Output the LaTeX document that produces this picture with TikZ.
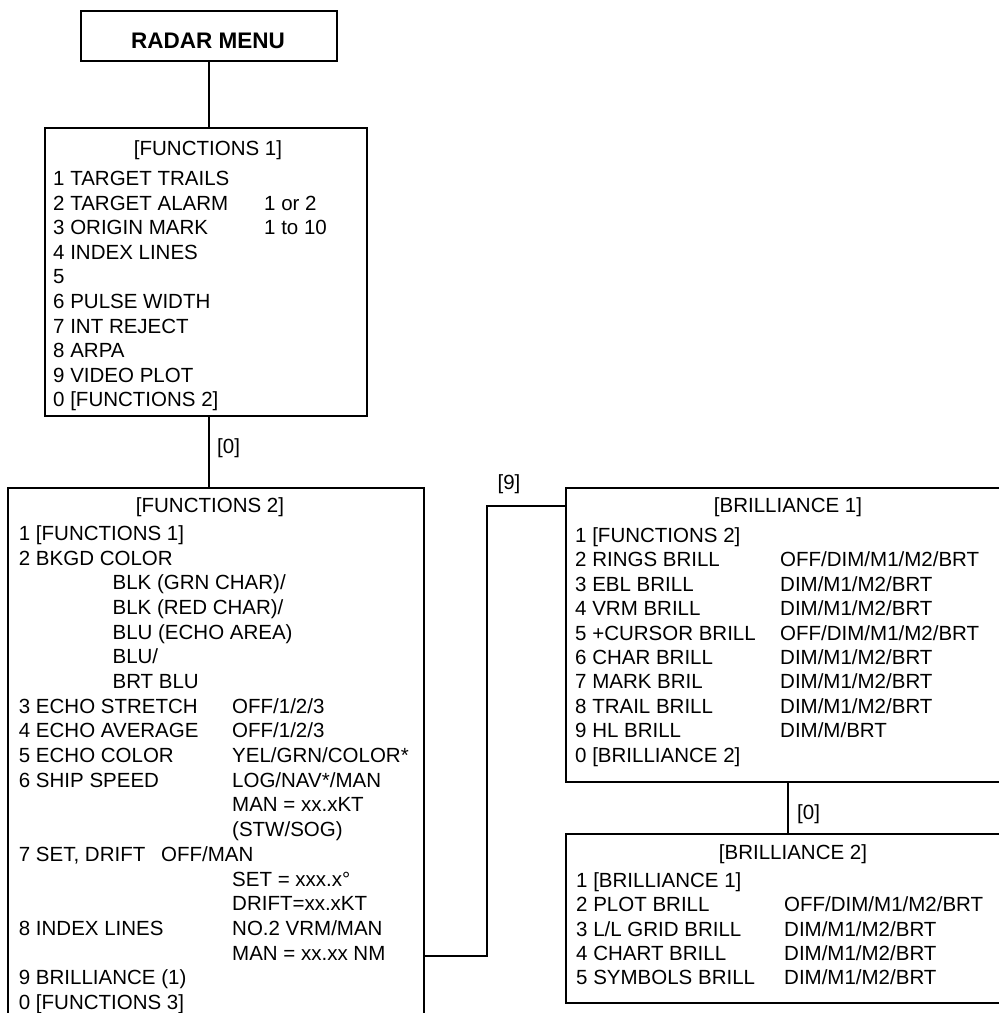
\documentclass[tikz,border=0pt]{standalone}
\usepackage{fontspec}
\setmainfont{Liberation Sans}
\usetikzlibrary{positioning}
\newcommand{\optline}[1]{\hspace*{93.7pt}#1}
\tikzset{
  menubox/.style={rectangle,draw=black,line width=1.2pt,inner sep=0pt},
  menutitle/.style={anchor=base,inner sep=0pt,font=\fontsize{20.5pt}{24.6pt}\selectfont},
  menutext/.style={anchor=base west,inner sep=0pt,font=\fontsize{20.5pt}{#1}\selectfont},
  menutext/.default=24.6pt,
  rootlabel/.style={inner sep=0pt,font=\fontsize{22.5pt}{26pt}\selectfont\bfseries},
  keylabel/.style={inner sep=0pt,font=\fontsize{20.5pt}{24pt}\selectfont},
  link/.style={line width=1.2pt}
}
\begin{document}
\begin{tikzpicture}[x=1pt,y=-1pt]
  \useasboundingbox (0,0) rectangle (999,1013);
  \node[menubox,minimum width=256pt,minimum height=50pt] (radar) at (209,36) {};
  \node[rootlabel] (radartext) at (208,41) {RADAR MENU};
  \node[menubox,minimum width=322pt,minimum height=288pt] (f1) at (206,272) {};
  \node[menubox,minimum width=416pt,minimum height=540pt] (f2) at (216,758) {};
  \node[menubox,minimum width=444pt,minimum height=294pt] (br1) at (788,635) {};
  \node[menubox,minimum width=444pt,minimum height=169pt] (br2) at (788,918.5) {};

  \node[menutitle] (f1title) at (208,155.5) {[FUNCTIONS 1]};
  \node[menutext] (f1keys) at (53,185.5) {\begin{tabular}[t]{@{}l@{}}
    1 TARGET TRAILS\\2 TARGET ALARM\\3 ORIGIN MARK\\4 INDEX LINES\\5\\
    6 PULSE WIDTH\\7 INT REJECT\\8 ARPA\\9 VIDEO PLOT\\0 [FUNCTIONS 2]
  \end{tabular}};
  \node[menutext] (f1vals) at (264,210.1) {\begin{tabular}[t]{@{}l@{}}
    1 or 2\\1 to 10
  \end{tabular}};

  \node[menutitle] (f2title) at (210,512.5) {[FUNCTIONS 2]};
  \node[menutext=24.68pt] (f2keys) at (18.7,540.5) {\begin{tabular}[t]{@{}l@{}}
    1 [FUNCTIONS 1]\\2 BKGD COLOR\\
    \optline{BLK (GRN CHAR)/}\\\optline{BLK (RED CHAR)/}\\\optline{BLU (ECHO AREA)}\\
    \optline{BLU/}\\\optline{BRT BLU}\\
    3 ECHO STRETCH\\4 ECHO AVERAGE\\5 ECHO COLOR\\6 SHIP SPEED\\ \\ \\
    \makebox[142.3pt][l]{7 SET, DRIFT}OFF/MAN\\ \\ \\
    8 INDEX LINES\\ \\9 BRILLIANCE (1)\\0 [FUNCTIONS 3]
  \end{tabular}};
  \node[menutext=24.68pt] (f2vals) at (232,713.26) {\begin{tabular}[t]{@{}l@{}}
    OFF/1/2/3\\OFF/1/2/3\\YEL/GRN/COLOR*\\LOG/NAV*/MAN\\MAN = xx.xKT\\(STW/SOG)\\ \\
    SET = xxx.x°\\DRIFT=xx.xKT\\NO.2 VRM/MAN\\MAN = xx.xx NM
  \end{tabular}};

  \node[menutitle] (br1title) at (788,512.5) {[BRILLIANCE 1]};
  \node[menutext=24.4pt] (br1keys) at (575,542.5) {\begin{tabular}[t]{@{}l@{}}
    1 [FUNCTIONS 2]\\2 RINGS BRILL\\3 EBL BRILL\\4 VRM BRILL\\5 +CURSOR BRILL\\
    6 CHAR BRILL\\7 MARK BRIL\\8 TRAIL BRILL\\9 HL BRILL\\0 [BRILLIANCE 2]
  \end{tabular}};
  \node[menutext=24.4pt] (br1vals) at (780,566.9) {\begin{tabular}[t]{@{}l@{}}
    OFF/DIM/M1/M2/BRT\\DIM/M1/M2/BRT\\DIM/M1/M2/BRT\\OFF/DIM/M1/M2/BRT\\
    DIM/M1/M2/BRT\\DIM/M1/M2/BRT\\DIM/M1/M2/BRT\\DIM/M/BRT
  \end{tabular}};

  \node[menutitle] (br2title) at (793,859.5) {[BRILLIANCE 2]};
  \node[menutext=24.25pt] (br2keys) at (576,887.5) {\begin{tabular}[t]{@{}l@{}}
    1 [BRILLIANCE 1]\\2 PLOT BRILL\\3 L/L GRID BRILL\\4 CHART BRILL\\5 SYMBOLS BRILL
  \end{tabular}};
  \node[menutext=24.25pt] (br2vals) at (784,911.75) {\begin{tabular}[t]{@{}l@{}}
    OFF/DIM/M1/M2/BRT\\DIM/M1/M2/BRT\\DIM/M1/M2/BRT\\DIM/M1/M2/BRT
  \end{tabular}};

  \coordinate (f2out) at (424,956);
  \coordinate (nine) at (487,506);
  \draw[link] (radar.south) -- (f1.north -| radar.south);
  \draw[link] (f1.south -| radar.south) -- (f2.north -| radar.south);
  \draw[link] (f2.east |- f2out) -| (nine) -- (nine -| br1.west);
  \draw[link] (br1.south) -- (br2.north);
  \node[keylabel,anchor=west] (f1key) at (217,448.5) {[0]};
  \node[keylabel] (f2key) at (509,484) {[9]};
  \node[keylabel,anchor=west] (br1key) at (797,814) {[0]};
\end{tikzpicture}
\end{document}
